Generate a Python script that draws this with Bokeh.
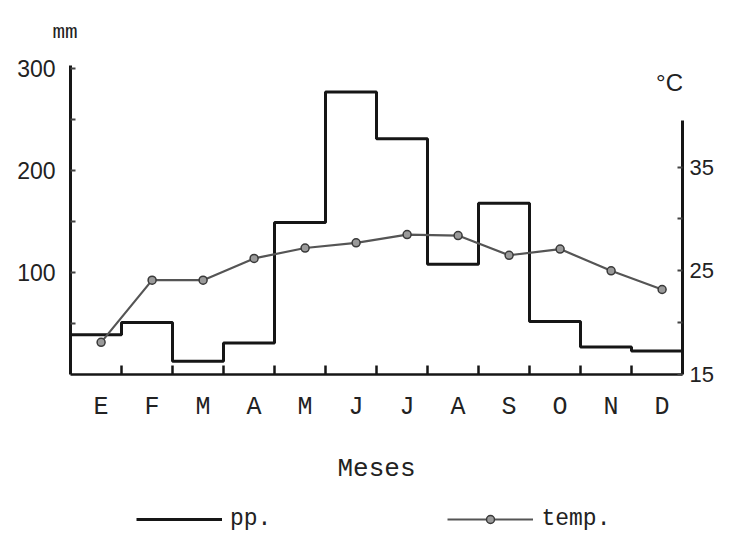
import numpy as np
from bokeh.plotting import figure
from bokeh.layouts import column
from bokeh.models import Range1d, LinearAxis, FixedTicker, Label, Legend, LegendItem
from bokeh.embed import file_html
from bokeh.resources import INLINE

# ---- data ----
months = ["E", "F", "M", "A", "M", "J", "J", "A", "S", "O", "N", "D"]
precip_mm = [39, 51, 13, 31, 149, 277, 231, 108, 168, 52, 27, 23]
temp_c = [18.1, 24.1, 24.1, 26.2, 27.2, 27.7, 28.5, 28.4, 26.5, 27.1, 25.0, 23.2]
mm_ticks = [100, 200, 300]
mm_minor = [50, 150, 250]
temp_ticks = [15, 25, 35]
temp_minor = [20, 30]

# ---- layout ----
W, H = 716, 492          # main chart
LH = 40                  # legend strip below it
FL, FR, FT, FB = 70, 683, 60, 374
frame_h = FB - FT
px_per_mm = 1.0233
px_per_c = 10.4
INK = "#161616"
TXT = "#222222"
PP_STYLE = dict(line_width=3, line_color=INK)
T_LINE = dict(line_width=2.2, line_color="#555555")
T_DOT = dict(size=8, marker="circle", fill_color="#9a9a9a", line_color="#3a3a3a", line_width=1.5)

p = figure(width=W, height=H, output_backend="svg", toolbar_location=None,
           x_range=Range1d(0, len(months)),
           y_range=Range1d(0, frame_h / px_per_mm),
           min_border_left=FL, min_border_right=W - FR,
           min_border_top=FT, min_border_bottom=H - FB,
           x_axis_location=None, y_axis_location=None)
p.extra_y_ranges = {"temp": Range1d(temp_ticks[0], temp_ticks[0] + frame_h / px_per_c)}
p.outline_line_color = None
p.background_fill_color = "white"
p.border_fill_color = "white"
p.grid.visible = False

# unit label of the left axis as the plot title
p.title.text = "mm"
p.title.align = "left"
p.title.offset = -18
p.title.standoff = 36
p.title.text_font = "Liberation Mono"
p.title.text_font_size = "21px"
p.title.text_font_style = "normal"
p.title.text_color = TXT

# precipitation as steps over month intervals
x_edges = np.arange(len(months) + 1)
y_steps = precip_mm + [precip_mm[-1]]
p.step(x_edges, y_steps, mode="after", **PP_STYLE)

# temperature line with dots
xm = np.arange(len(months)) + 0.6
p.line(xm, temp_c, y_range_name="temp", **T_LINE)
p.scatter(xm, temp_c, y_range_name="temp", **T_DOT)

# left axis (mm) and right axis (°C)
left = LinearAxis(ticker=FixedTicker(ticks=mm_ticks, minor_ticks=mm_minor), bounds=(0, 303))
right = LinearAxis(y_range_name="temp",
                   ticker=FixedTicker(ticks=temp_ticks, minor_ticks=temp_minor),
                   bounds=(15, 39.5))
for ax, so, fs in ((left, 15, "23px"), (right, 7, "22px")):
    ax.axis_line_width = 3
    ax.axis_line_color = INK
    ax.major_tick_in = 5
    ax.major_tick_out = 0
    ax.minor_tick_in = 5
    ax.minor_tick_out = 0
    ax.major_tick_line_width = 2
    ax.minor_tick_line_width = 2
    ax.major_tick_line_color = "#444444"
    ax.minor_tick_line_color = "#444444"
    ax.major_label_text_font = "Liberation Sans"
    ax.major_label_text_font_size = fs
    ax.major_label_text_color = TXT
    ax.major_label_standoff = so
p.add_layout(left, "left")
p.add_layout(right, "right")

# bottom axis: month letters, tick marks at month boundaries
tick_pos = [float(v) for v in xm]
bottom = LinearAxis(ticker=FixedTicker(ticks=tick_pos, minor_ticks=list(range(1, len(months)))),
                    bounds=(0, len(months)))
bottom.axis_line_width = 2.5
bottom.axis_line_color = INK
bottom.major_tick_line_color = None
bottom.minor_tick_in = 9
bottom.minor_tick_out = 0
bottom.minor_tick_line_width = 2.5
bottom.minor_tick_line_color = INK
bottom.major_label_overrides = {t: m for t, m in zip(tick_pos, months)}
bottom.major_label_text_font = "Liberation Mono"
bottom.major_label_text_font_size = "25px"
bottom.major_label_text_color = TXT
bottom.major_label_standoff = 12
bottom.axis_label = "Meses"
bottom.axis_label_standoff = 29
bottom.axis_label_text_font = "Liberation Mono"
bottom.axis_label_text_font_size = "26px"
bottom.axis_label_text_font_style = "normal"
bottom.axis_label_text_color = TXT
p.add_layout(bottom, "below")

# °C unit above the right axis (inside the frame so it is not clipped)
p.add_layout(Label(x=599, y=292, x_units="screen", y_units="screen", text="°C",
                   text_align="center", text_baseline="middle",
                   text_font="Liberation Sans", text_font_size="24px", text_color=TXT))

# ---- legend strip (series re-drawn out of view, only their legend keys show) ----
q = figure(width=W, height=LH, output_backend="svg", toolbar_location=None,
           x_range=Range1d(0, 1), y_range=Range1d(-2, -1),
           min_border=0, min_border_left=0, min_border_right=0,
           min_border_top=0, min_border_bottom=0,
           x_axis_location=None, y_axis_location=None)
q.outline_line_color = None
q.grid.visible = False
k_pp = q.step(x_edges, y_steps, mode="after", **PP_STYLE)
k_tl = q.line(xm, temp_c, **T_LINE)
k_tp = q.scatter(xm, temp_c, **T_DOT)
legend = Legend(items=[LegendItem(label="pp.", renderers=[k_pp]),
                       LegendItem(label="temp.", renderers=[k_tl, k_tp])],
                orientation="horizontal", location=(66, 0),
                glyph_width=86, glyph_height=20, label_standoff=8, spacing=176,
                padding=0, margin=0, border_line_color=None, background_fill_alpha=0,
                label_text_font="Liberation Mono", label_text_font_size="23px",
                label_text_color=TXT)
q.add_layout(legend)

open("out.html", "w").write(file_html(column(p, q), INLINE))
